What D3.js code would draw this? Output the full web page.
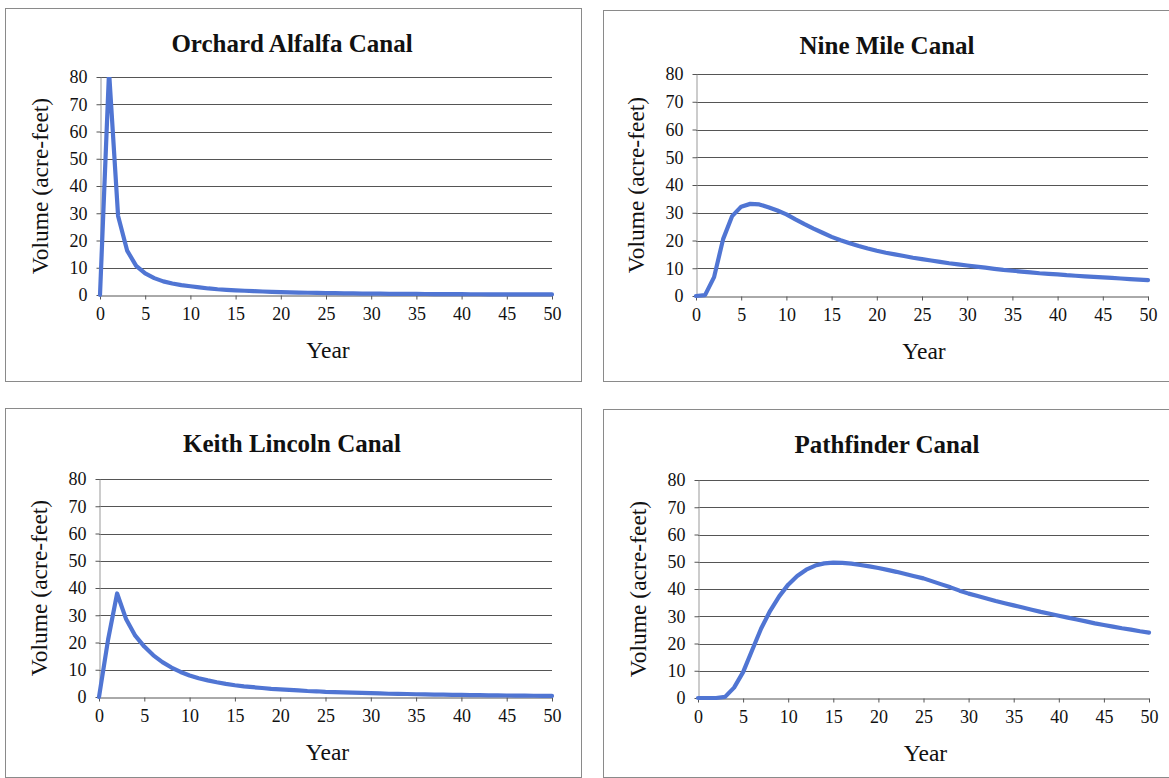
<!DOCTYPE html>
<html>
<head>
<meta charset="utf-8">
<script src="https://cdn.jsdelivr.net/npm/d3@7"></script>
<style>
  body { margin: 0; background: #fff; }
  svg { display: block; }
  svg text { font-family: "Liberation Serif", "Times New Roman", serif; }
</style>
</head>
<body>
<svg id="chart" width="1169" height="778"></svg>
<script>
// years on the x axis
const years = [0, 1, 2, 3, 4, 5, 6, 7, 8, 9, 10, 11, 12, 13, 14, 15, 16, 17, 18, 19, 20,
  21, 22, 23, 24, 25, 26, 27, 28, 29, 30, 31, 32, 33, 34, 35, 36, 37, 38, 39, 40,
  41, 42, 43, 44, 45, 46, 47, 48, 49, 50];

// volume (acre-feet)
const orchardAlfalfa = [0, 82, 29, 16.3, 10.7, 7.9, 6.2, 5.0, 4.2, 3.6, 3.2, 2.8, 2.4, 2.1, 1.9, 1.7,
  1.55, 1.4, 1.28, 1.17, 1.07, 0.98, 0.9, 0.83, 0.77, 0.71, 0.66, 0.62, 0.58, 0.54, 0.5,
  0.47, 0.44, 0.42, 0.4, 0.38, 0.36, 0.34, 0.32, 0.31, 0.3, 0.28, 0.27, 0.26, 0.25, 0.24,
  0.23, 0.22, 0.21, 0.2, 0.2];
const nineMile = [0, 0.3, 6.8, 20.5, 28.8, 32.2, 33.2, 33.0, 32.0, 30.8, 29.4, 27.6, 25.9, 24.3, 22.8, 21.3,
  20.1, 19.0, 18.0, 17.1, 16.3, 15.6, 15.0, 14.4, 13.8, 13.3, 12.8, 12.3, 11.8, 11.4, 11.0,
  10.6, 10.2, 9.8, 9.4, 9.1, 8.8, 8.5, 8.2, 8.0, 7.8, 7.5, 7.3, 7.1, 6.9, 6.7,
  6.5, 6.3, 6.1, 5.9, 5.7];
const keithLincoln = [0, 21, 38, 28.5, 22.5, 18.5, 15.3, 12.8, 10.8, 9.2, 7.9, 6.9, 6.1, 5.4, 4.8, 4.3,
  3.9, 3.6, 3.3, 3.0, 2.8, 2.6, 2.4, 2.2, 2.1, 1.9, 1.8, 1.7, 1.6, 1.5, 1.4,
  1.3, 1.2, 1.15, 1.1, 1.0, 0.95, 0.9, 0.85, 0.8, 0.75, 0.7, 0.66, 0.62, 0.58, 0.55,
  0.52, 0.49, 0.46, 0.43, 0.4];
const pathfinder = [0, 0, 0, 0.4, 3.8, 9.5, 17.5, 25.5, 32.0, 37.3, 41.6, 44.8, 47.1, 48.6, 49.4, 49.7,
  49.6, 49.3, 48.8, 48.3, 47.7, 47.0, 46.3, 45.5, 44.7, 43.9, 42.8, 41.7, 40.6, 39.4, 38.3,
  37.4, 36.5, 35.6, 34.8, 34.0, 33.2, 32.4, 31.6, 30.9, 30.2, 29.5, 28.8, 28.1, 27.4, 26.8,
  26.2, 25.6, 25.1, 24.5, 24.0];

const titles = ["Orchard Alfalfa Canal", "Nine Mile Canal", "Keith Lincoln Canal", "Pathfinder Canal"];
const seriesList = [orchardAlfalfa, nineMile, keithLincoln, pathfinder];
const xTicks = [0, 5, 10, 15, 20, 25, 30, 35, 40, 45, 50];
const yTicks = [0, 10, 20, 30, 40, 50, 60, 70, 80];

// panel frames and plot areas (pixels)
const layout = [
  { box: [5, 8, 576, 373], plot: { l: 100, r: 552, t: 77, b: 295 } },
  { box: [603, 10, 570, 371], plot: { l: 696, r: 1148, t: 74, b: 296 } },
  { box: [5, 408, 576, 369], plot: { l: 99, r: 552, t: 479, b: 697 } },
  { box: [603, 409, 570, 368], plot: { l: 698, r: 1149, t: 480, b: 698 } },
];

const serif = '"Liberation Serif", "Times New Roman", serif';
const lineColor = "#5075d3";
const gridColor = "#555";
const svg = d3.select("#chart");

layout.forEach((lay, i) => {
  const values = seriesList[i];
  const [bx, by, bw, bh] = lay.box;
  const p = lay.plot;
  const g = svg.append("g");

  // panel frame
  g.append("rect")
    .attr("x", bx + 0.5).attr("y", by + 0.5)
    .attr("width", bw).attr("height", bh)
    .attr("fill", "#fff")
    .attr("stroke", "#8a8a8a")
    .attr("stroke-width", 1);

  const x = d3.scaleLinear().domain([0, 50]).range([p.l, p.r]);
  const y = d3.scaleLinear().domain([0, 80]).range([p.b, p.t]);

  // title
  g.append("text")
    .attr("x", bx + bw / 2 - 1)
    .attr("y", by + 44)
    .attr("text-anchor", "middle")
    .style("font-size", "25px")
    .style("font-weight", "bold")
    .attr("fill", "#111")
    .text(titles[i]);

  // horizontal gridlines
  g.append("g")
    .selectAll("line")
    .data(yTicks.filter((d) => d > 0))
    .join("line")
    .attr("x1", p.l).attr("x2", p.r)
    .attr("y1", (d) => Math.round(y(d)) + 0.5)
    .attr("y2", (d) => Math.round(y(d)) + 0.5)
    .attr("stroke", gridColor)
    .attr("stroke-width", 1);

  // y axis
  const yAxis = g.append("g")
    .attr("transform", `translate(${p.l + 0.5},0)`)
    .call(d3.axisLeft(y).tickValues(yTicks).tickSize(4).tickSizeOuter(0).tickPadding(9));
  yAxis.attr("font-family", null).attr("font-size", null);
  yAxis.select(".domain").attr("stroke", "#999");
  yAxis.selectAll(".tick line").attr("stroke", gridColor);
  yAxis.selectAll(".tick text")
    .style("font-size", "18px")
    .style("font-family", serif)
    .attr("fill", "#111");

  // x axis
  const xAxis = g.append("g")
    .attr("transform", `translate(0,${Math.round(p.b) + 0.5})`)
    .call(d3.axisBottom(x).tickValues(xTicks).tickSize(4).tickSizeOuter(0).tickPadding(8));
  xAxis.attr("font-family", null).attr("font-size", null);
  xAxis.select(".domain").attr("stroke", gridColor);
  xAxis.selectAll(".tick line").attr("stroke", gridColor);
  xAxis.selectAll(".tick text")
    .style("font-size", "18px")
    .style("font-family", serif)
    .attr("fill", "#111");

  // axis titles
  g.append("text")
    .attr("x", (p.l + p.r) / 2 + 2)
    .attr("y", p.b + 63)
    .attr("text-anchor", "middle")
    .style("font-size", "23.5px")
    .attr("fill", "#111")
    .text("Year");

  g.append("text")
    .attr("transform", `translate(${p.l - 60},${(p.t + p.b) / 2}) rotate(-90)`)
    .attr("text-anchor", "middle")
    .attr("dy", "0.35em")
    .style("font-size", "23.5px")
    .attr("fill", "#111")
    .text("Volume (acre-feet)");

  // clip to the plot area
  const clipId = "clip" + i;
  g.append("clipPath").attr("id", clipId)
    .append("rect")
    .attr("x", p.l - 4).attr("y", p.t)
    .attr("width", p.r - p.l + 8).attr("height", p.b - p.t + 6);

  const line = d3.line()
    .x((d, k) => x(years[k]))
    .y((d) => y(d));

  g.append("path")
    .datum(values)
    .attr("clip-path", `url(#${clipId})`)
    .attr("fill", "none")
    .attr("stroke", lineColor)
    .attr("stroke-width", 4.2)
    .attr("stroke-linejoin", "round")
    .attr("stroke-linecap", "round")
    .attr("d", line);
});
</script>
</body>
</html>
